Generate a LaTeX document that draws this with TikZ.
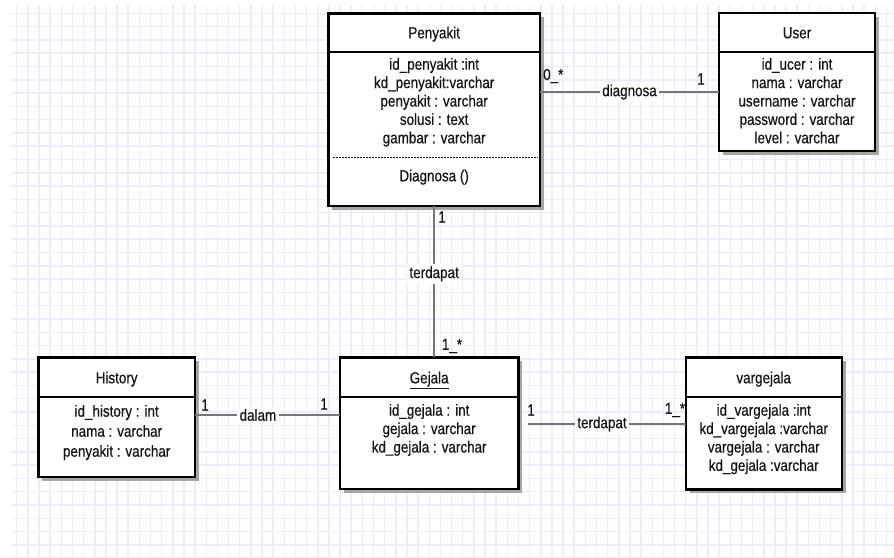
\documentclass[tikz,border=0pt]{standalone}
\usepackage{fontspec}
\setmainfont[FakeStretch=0.84,FakeBold=0.5]{Liberation Sans}
\usetikzlibrary{shadows}
\definecolor{gridc}{RGB}{236,236,255}
\definecolor{linkc}{RGB}{118,118,118}
\definecolor{shadowc}{RGB}{165,165,165}
\definecolor{ink}{RGB}{20,20,20}
\begin{document}
\begin{tikzpicture}[x=1pt,y=-1pt,
  every node/.style={font=\fontsize{16}{18.4}\selectfont, text=ink},
  classbox/.style={draw=black, line width=2.4pt, fill=white, rectangle,
    inner sep=0pt, outer sep=0pt, anchor=north west,
    drop shadow={shadow xshift=4pt, shadow yshift=-4pt, fill=shadowc, opacity=1}},
  title/.style={anchor=base, inner sep=0pt},
  attrs/.style={anchor=north, inner sep=0pt, align=center},
  divider/.style={draw=black, line width=2pt},
  dashline/.style={draw=ink, line width=0.9pt, dash pattern=on 2pt off 1pt},
  link/.style={draw=linkc, line width=2pt},
  rel/.style={fill=white, inner sep=2.5pt},
  mult/.style={inner sep=0pt},
]
% canvas and background grid
\useasboundingbox[fill=white] (0,0) rectangle (894,557);
\begin{scope}
  \clip (11,5) rectangle (894,557);
  \foreach \i in {0,...,79} \draw[gridc, line width=1.5pt] (16.7+11.15*\i,0) -- ++(0,557);
  \foreach \j in {0,...,41} \draw[gridc, line width=1.5pt] (0,13.3+13.29*\j) -- ++(894,0);
\end{scope}

% class boxes
\node[classbox, minimum width=211.7pt, minimum height=192.4pt] (pen) at (328.3,13.3) {};
\node[classbox, minimum width=156pt, minimum height=138pt] (usr) at (719,12.7) {};
\node[classbox, minimum width=156.7pt, minimum height=119.4pt] (his) at (38.3,357.3) {};
\node[classbox, minimum width=178.3pt, minimum height=131.7pt] (gej) at (340,357.3) {};
\node[classbox, minimum width=156pt, minimum height=132pt] (var) at (685.7,357.3) {};

% Penyakit
\node[title] (penT) at ([yshift=-25pt]pen.north) {Penyakit};
\draw[divider] ([yshift=-39pt]pen.north west) -- ([yshift=-39pt]pen.north east);
\node[attrs] (penA) at ([yshift=-43.3pt]pen.north) {\strut id\_penyakit :int\\ kd\_penyakit:varchar\\ penyakit : varchar\\ solusi : text\\ gambar : varchar};
\draw[dashline] ([xshift=5pt,yshift=-144pt]pen.north west) -- ([xshift=-2pt,yshift=-144pt]pen.north east);
\node[title] (penM) at ([yshift=-168pt]pen.north) {Diagnosa ()};

% User
\node[title] (usrT) at ([yshift=-25.6pt]usr.north) {User};
\draw[divider] ([yshift=-39.6pt]usr.north west) -- ([yshift=-39.6pt]usr.north east);
\node[attrs] (usrA) at ([yshift=-43.9pt]usr.north) {\strut id\_ucer : int\\ nama : varchar\\ username : varchar\\ password : varchar\\ level : varchar};

% History
\node[title] (hisT) at ([yshift=-26pt]his.north) {History};
\draw[divider] ([yshift=-39.4pt]his.north west) -- ([yshift=-39.4pt]his.north east);
\node[attrs, font=\fontsize{16}{20}\selectfont] (hisA) at ([yshift=-45.2pt]his.north) {\strut id\_history : int\\ nama : varchar\\ penyakit : varchar};

% Gejala
\node[title] (gejT) at ([yshift=-26pt]gej.north) {\underline{Gejala}};
\draw[divider] ([yshift=-40pt]gej.north west) -- ([yshift=-40pt]gej.north east);
\node[attrs] (gejA) at ([yshift=-45.3pt]gej.north) {\strut id\_gejala : int\\ gejala : varchar\\ kd\_gejala : varchar};

% vargejala
\node[title] (varT) at ([yshift=-26pt]var.north) {vargejala};
\draw[divider] ([yshift=-40pt]var.north west) -- ([yshift=-40pt]var.north east);
\node[attrs] (varA) at ([yshift=-45.3pt]var.north) {\strut id\_vargejala :int\\ kd\_vargejala :varchar\\ vargejala : varchar\\ kd\_gejala :varchar};

% associations
\draw[link] (pen.east |- 0,92) -- node[rel] (relDiag) {diagnosa} (usr.west |- 0,92);
\draw[link] (pen.south) -- node[rel, pos=0.45] (relTer1) {terdapat} (pen.south |- gej.north);
\draw[link] (his.east |- 0,415) -- node[rel, pos=0.434] (relDalam) {dalam} (gej.west |- 0,415);
\draw[link, shorten <=10pt] (gej.east |- 0,424) -- node[rel] (relTer2) {terdapat} (var.west |- 0,424);

% multiplicities
\node[mult, anchor=west] (mPenU) at (543,76) {0\_*};
\node[mult] (mUsr) at (701,79) {1};
\node[mult] (mPenG) at (442,217) {1};
\node[mult] (mGejP) at (452,346) {1\_*};
\node[mult] (mHis) at (205,405) {1};
\node[mult] (mGejH) at (324,404) {1};
\node[mult] (mGejV) at (531,410) {1};
\node[mult] (mVar) at (675,410) {1\_*};
\end{tikzpicture}
\end{document}
